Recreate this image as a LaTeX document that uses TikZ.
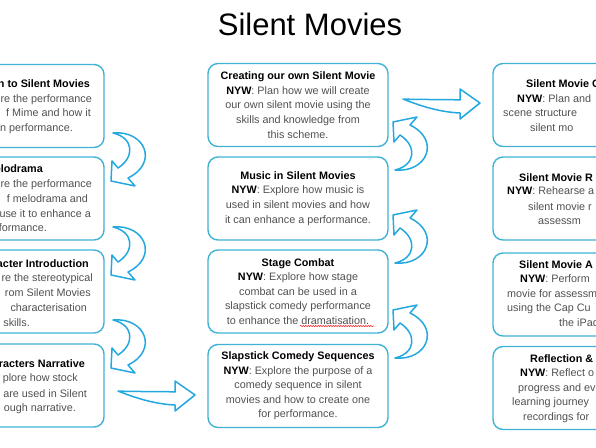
\documentclass[tikz,border=0pt]{standalone}
\usepackage{fontspec}
\setmainfont{Liberation Sans}
\usetikzlibrary{decorations.pathmorphing}
\definecolor{boxc}{RGB}{64,178,214}
\definecolor{arrc}{RGB}{36,168,224}
\definecolor{txt}{RGB}{80,80,80}
\newcommand{\mytitle}[1]{\textcolor{black}{\bfseries #1}}
\begin{document}
\begin{tikzpicture}[x=1pt,y=-1pt,
  card/.style={draw=boxc, line width=1.4pt, rounded corners=10pt, minimum width=180pt, minimum height=83pt, align=center, inner sep=0pt, font=\fontsize{10.8}{14.6}\selectfont, text=txt},
  ltext/.style={anchor=base east, inner sep=0pt, font=\fontsize{10.8}{12}\selectfont, text=txt},
  rtext/.style={anchor=base west, inner sep=0pt, font=\fontsize{10.8}{12}\selectfont, text=txt},
  blockarrow/.style={draw=arrc, line width=1.5pt, fill=white, line join=round},
  curvarrow/.pic={
    \path[blockarrow] (0,0) .. controls (32,-3) and (46,30) .. (15,45)
      -- (22,53) -- (-2,48) -- (-1,28) -- (5,35)
      .. controls (22,24) and (21,5) .. (0,0) -- cycle;
  },
  flatarrow/.pic={
    \path[blockarrow] (0,0) .. controls (20,1) and (40,0) .. (57,1)
      -- (57,-10) -- (77,4) -- (57,20) -- (57,14)
      .. controls (35,13) and (15,6) .. (0,0) -- cycle;
  }
]
\useasboundingbox (0,0) rectangle (596,447);
\clip (0,0) rectangle (596,447);

% title
\node[anchor=base, inner sep=0pt, font=\fontsize{31}{33}\selectfont] (title) at (310,35) {Silent Movies};

% left column boxes
\node[card] (l1) at (14,106) {};
\node[card] (l2) at (14,198.5) {};
\node[card] (l3) at (14,291.5) {};
\node[card] (l4) at (14,385.5) {};

\node[ltext] (l1a) at (90,87) {\mytitle{n to Silent Movies}};
\node[ltext] (l1b) at (92,102) {re the performance};
\node[ltext] (l1c) at (91,116) {f Mime and how it};
\node[ltext] (l1d) at (73,131) {n performance.};

\node[ltext] (l2a) at (43,172) {\mytitle{elodrama}};
\node[ltext] (l2b) at (92,187) {re the performance};
\node[ltext] (l2c) at (88,202) {f melodrama and};
\node[ltext] (l2d) at (91,217) {use it to enhance a};
\node[ltext] (l2e) at (47,231) {formance.};

\node[ltext] (l3a) at (89,267) {\mytitle{acter Introduction}};
\node[ltext] (l3b) at (93,281) {re the stereotypical};
\node[ltext] (l3c) at (91,296) {rom Silent Movies};
\node[ltext] (l3d) at (87,311) {characterisation};
\node[ltext] (l3e) at (30,326) {skills.};

\node[ltext] (l4a) at (85,367) {\mytitle{racters Narrative}};
\node[ltext] (l4b) at (78,381) {plore how stock};
\node[ltext] (l4c) at (87,397) {are used in Silent};
\node[ltext] (l4d) at (76,411) {ough narrative.};

% middle column
\node[card] (m1) at (298,105) {\mytitle{Creating our own Silent Movie}\\
  \mytitle{NYW}: Plan how we will create\\ our own silent movie using the\\ skills and knowledge from\\ this scheme.};
\node[card] (m2) at (298,198.5) {\mytitle{Music in Silent Movies}\\
  \mytitle{NYW}: Explore how music is\\ used in silent movies and how\\ it can enhance a performance.};
\node[card] (m3) at (298,291.5) {\mytitle{Stage Combat}\\
  \mytitle{NYW}: Explore how stage\\ combat can be used in a\\ slapstick comedy performance\\ to enhance the dramatisation.};
\node[card] (m4) at (298,386) {\mytitle{Slapstick Comedy Sequences}\\
  \mytitle{NYW}: Explore the purpose of a\\ comedy sequence in silent\\ movies and how to create one\\ for performance.};
\draw[red, line width=0.5pt, decorate, decoration={snake, amplitude=0.6pt, segment length=2.5pt}]
  (300,326) -- (374,326);

% right column boxes
\node[card] (r1) at (583,105) {};
\node[card] (r2) at (583,198.5) {};
\node[card] (r3) at (583,294.5) {};
\node[card] (r4) at (583,388) {};

\node[rtext] (r1a) at (526,87) {\mytitle{Silent Movie C}};
\node[rtext] (r1b) at (517,102) {\mytitle{NYW}: Plan and};
\node[rtext] (r1c) at (503,116) {scene structure};
\node[rtext] (r1d) at (530,131) {silent mo};

\node[rtext] (r2a) at (519,181) {\mytitle{Silent Movie R}};
\node[rtext] (r2b) at (507,194) {\mytitle{NYW}: Rehearse a};
\node[rtext] (r2c) at (528,210) {silent movie r};
\node[rtext] (r2d) at (538,224) {assessm};

\node[rtext] (r3a) at (519,268) {\mytitle{Silent Movie A}};
\node[rtext] (r3b) at (520,282) {\mytitle{NYW}: Perform};
\node[rtext] (r3c) at (507,297) {movie for assessm};
\node[rtext] (r3d) at (507,311) {using the Cap Cu};
\node[rtext] (r3e) at (559,326) {the iPad};

\node[rtext] (r4a) at (530,362) {\mytitle{Reflection \&}};
\node[rtext] (r4b) at (520,376) {\mytitle{NYW}: Reflect o};
\node[rtext] (r4c) at (518,391) {progress and ev};
\node[rtext] (r4d) at (512,405) {learning journey};
\node[rtext] (r4e) at (523,420) {recordings for};

% curved arrows, left column (downwards)
\pic at (113,133) {curvarrow};
\pic at (113,227) {curvarrow};
\pic at (113,320) {curvarrow};
% curved arrows, middle column (upwards)
\pic[yscale=-1] at (395,170) {curvarrow};
\pic[yscale=-1] at (395,263) {curvarrow};
\pic[yscale=-1] at (395,358) {curvarrow};
% flat arrows
\pic at (403,99) {flatarrow};
\pic at (118,391) {flatarrow};
\end{tikzpicture}
\end{document}
